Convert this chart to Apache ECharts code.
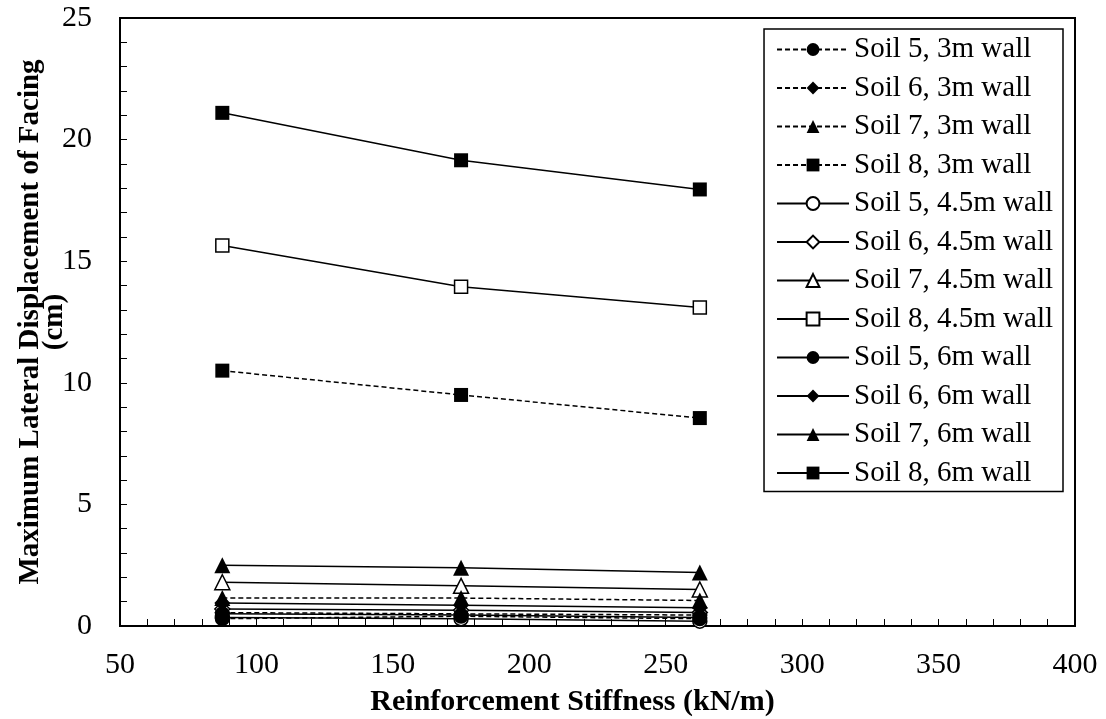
<!DOCTYPE html>
<html>
<head>
<meta charset="utf-8">
<script src="https://cdn.jsdelivr.net/npm/echarts@6/dist/echarts.min.js"></script>
<style>
  html, body { margin: 0; padding: 0; background: #fff; }
  #chart { width: 1106px; height: 719px; }
</style>
</head>
<body>
<div id="chart"></div>
<script>
var chart = echarts.init(document.getElementById('chart'));

// reinforcement stiffness (kN/m)
var stiffness = [87.5, 175, 262.5];

// max lateral displacement of facing (cm)
var soil5_3m = [0.3, 0.4, 0.3];
var soil6_3m = [0.55, 0.5, 0.45];
var soil7_3m = [1.15, 1.15, 1.05];
var soil8_3m = [10.5, 9.5, 8.55];
var soil5_45m = [0.35, 0.3, 0.2];
var soil6_45m = [0.7, 0.65, 0.55];
var soil7_45m = [1.8, 1.65, 1.5];
var soil8_45m = [15.65, 13.95, 13.1];
var soil5_6m = [0.5, 0.45, 0.35];
var soil6_6m = [0.95, 0.85, 0.75];
var soil7_6m = [2.5, 2.4, 2.2];
var soil8_6m = [21.1, 19.15, 17.95];

var font = 'Liberation Serif';

function pairs(ys) {
    return stiffness.map(function (x, i) { return [x, ys[i]]; });
}

function line(name, ys, symbol, size, dashed, hollow) {
    return {
        name: name,
        type: 'line',
        data: pairs(ys),
        symbol: symbol,
        symbolSize: size,
        showAllSymbol: true,
        z: dashed ? 3 : 2,
        lineStyle: {
            color: '#000',
            width: 1.5,
            type: dashed ? [5, 3] : 'solid'
        },
        itemStyle: {
            color: hollow ? '#fff' : '#000',
            borderColor: '#000',
            borderWidth: hollow ? 1.5 : 0
        },
        emphasis: { disabled: true }
    };
}

var series = [
    line('Soil 5, 3m wall', soil5_3m, 'circle', 15, true, false),
    line('Soil 6, 3m wall', soil6_3m, 'diamond', 16, true, false),
    line('Soil 7, 3m wall', soil7_3m, 'triangle', 16, true, false),
    line('Soil 8, 3m wall', soil8_3m, 'rect', 14, true, false),
    line('Soil 5, 4.5m wall', soil5_45m, 'circle', 14, false, true),
    line('Soil 6, 4.5m wall', soil6_45m, 'diamond', 15, false, true),
    line('Soil 7, 4.5m wall', soil7_45m, 'triangle', 15, false, true),
    line('Soil 8, 4.5m wall', soil8_45m, 'rect', 13, false, true),
    line('Soil 5, 6m wall', soil5_6m, 'circle', 15, false, false),
    line('Soil 6, 6m wall', soil6_6m, 'diamond', 16, false, false),
    line('Soil 7, 6m wall', soil7_6m, 'triangle', 16, false, false),
    line('Soil 8, 6m wall', soil8_6m, 'rect', 14, false, false)
];

var option = {
    animation: false,
    backgroundColor: '#fff',
    textStyle: { fontFamily: font, color: '#000' },
    grid: {
        left: 120,
        right: 31,
        top: 18,
        bottom: 93,
        outerBoundsMode: 'none',
        show: true,
        borderColor: '#000',
        borderWidth: 2,
        backgroundColor: 'transparent'
    },
    legend: {
        orient: 'vertical',
        right: 43,
        top: 29,
        padding: [6, 10, 4, 12],
        itemWidth: 72,
        itemHeight: 16,
        itemGap: 9.5,
        borderColor: '#000',
        borderWidth: 1.5,
        backgroundColor: '#fff',
        textStyle: { fontFamily: font, fontSize: 29, color: '#000' },
        data: series.map(function (s) { return s.name; })
    },
    xAxis: {
        type: 'value',
        min: 50,
        max: 400,
        interval: 50,
        splitLine: { show: false },
        axisLine: { show: true, onZero: false, lineStyle: { color: '#000', width: 2 } },
        axisTick: { show: true, inside: true, length: 7, lineStyle: { color: '#000', width: 1 } },
        minorTick: { show: true, splitNumber: 5, length: 7, lineStyle: { color: '#000', width: 1 } },
        axisLabel: { fontFamily: font, fontSize: 30, color: '#000', margin: 24 },
        name: 'Reinforcement Stiffness (kN/m)',
        nameLocation: 'middle',
        nameGap: 61,
        nameMoveOverlap: false,
        nameTextStyle: { fontFamily: font, fontSize: 30, fontWeight: 'bold', color: '#000', padding: [0, 50, 0, 0] }
    },
    yAxis: {
        type: 'value',
        min: 0,
        max: 25,
        interval: 5,
        splitLine: { show: false },
        axisLine: { show: true, onZero: false, lineStyle: { color: '#000', width: 2 } },
        axisTick: { show: true, inside: true, length: 7, lineStyle: { color: '#000', width: 1 } },
        minorTick: { show: true, splitNumber: 5, length: 7, lineStyle: { color: '#000', width: 1 } },
        axisLabel: { fontFamily: font, fontSize: 30, color: '#000', margin: 28 },
        name: 'Maximum Lateral Displacement of Facing\n(cm)',
        nameLocation: 'middle',
        nameGap: 53,
        nameMoveOverlap: false,
        nameTextStyle: { fontFamily: font, fontSize: 29, fontWeight: 'bold', color: '#000', lineHeight: 24 }
    },
    series: series
};

chart.setOption(option);
</script>
</body>
</html>
